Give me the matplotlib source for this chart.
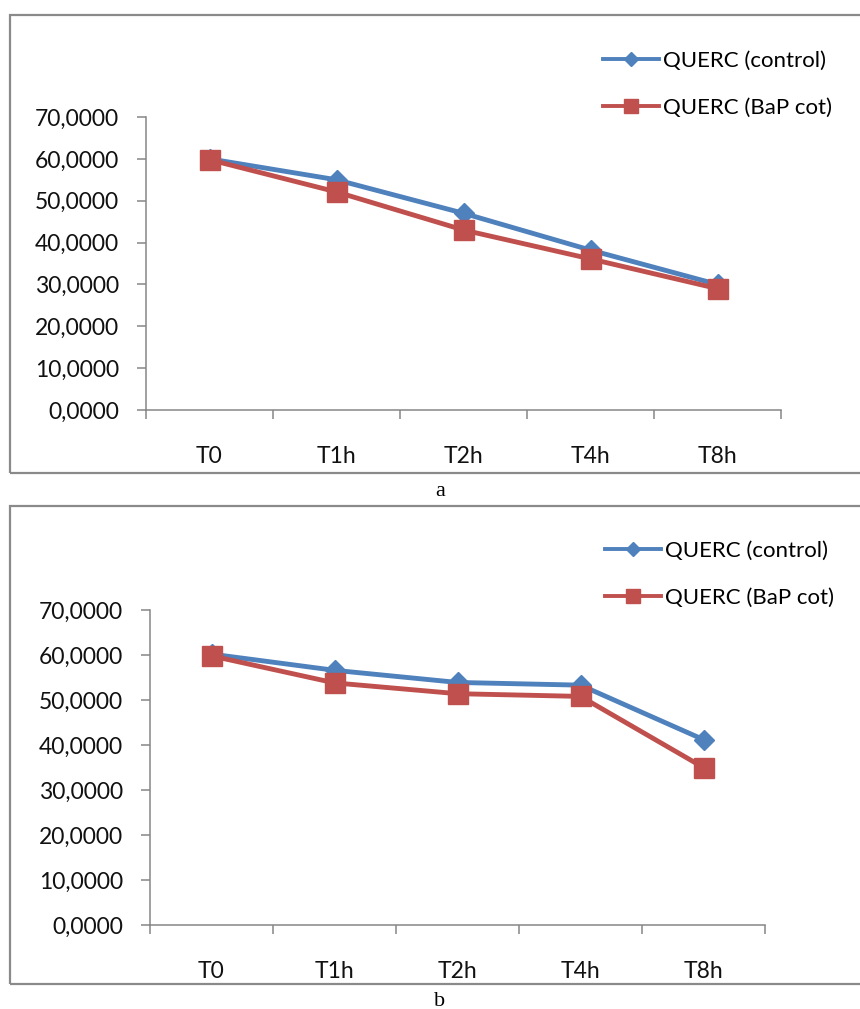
import matplotlib
matplotlib.use("Agg")
import matplotlib.pyplot as plt
from matplotlib.patches import Rectangle
from matplotlib.ticker import FixedLocator, FuncFormatter, NullFormatter

plt.rcParams['font.family'] = ['Lato', 'DejaVu Sans']

# ---- data ----
categories = ["T0", "T1h", "T2h", "T4h", "T8h"]
series_names = ["QUERC (control)", "QUERC (BaP cot)"]
a_control = [60.0, 55.0, 47.0, 38.2, 30.0]
a_bap = [59.8, 52.1, 43.0, 36.1, 29.0]
b_control = [60.2, 56.6, 53.9, 53.3, 41.2]
b_bap = [59.8, 53.8, 51.4, 50.8, 35.0]
y_ticks = [0, 10, 20, 30, 40, 50, 60, 70]
panel_labels = ["a", "b"]

W, H = 860, 1009
fig = plt.figure(figsize=(W / 100, H / 100), dpi=100)

BLUE = "#4F81BD"
RED = "#C0504D"
GRAY = "#868686"
FS = 16.5


def px_rect(l, t, r, b):
    return [l / W, 1 - b / H, (r - l) / W, (b - t) / H]


def frame(t, b):
    fig.patches.append(Rectangle((10 / W, 1 - b / H), (880 - 10) / W, (b - t) / H,
                                 transform=fig.transFigure, fill=False,
                                 edgecolor="#8a8a8a", linewidth=1.6))


def panel(rect, control, bap, leg_xy):
    ax = fig.add_axes(rect)
    x = [i + 0.5 for i in range(len(categories))]
    ax.plot(x, control, color=BLUE, lw=3.5, marker="D", ms=10,
            markeredgecolor=BLUE, label=series_names[0], zorder=3,
            solid_joinstyle="round")
    ax.plot(x, bap, color=RED, lw=3.5, marker="s", ms=14,
            markeredgecolor=RED, label=series_names[1], zorder=4,
            solid_joinstyle="round")
    ax.set_xlim(0, len(categories))
    ax.set_ylim(y_ticks[0], y_ticks[-1])
    for s in ("top", "right"):
        ax.spines[s].set_visible(False)
    for s in ("left", "bottom"):
        ax.spines[s].set_color(GRAY)
        ax.spines[s].set_linewidth(1.1)
    ax.yaxis.set_major_locator(FixedLocator(y_ticks))
    ax.yaxis.set_major_formatter(FuncFormatter(lambda v, p: f"{v:.4f}".replace(".", ",")))
    ax.tick_params(axis="y", length=6.5, width=1.1, color=GRAY, pad=13,
                   labelsize=FS, labelcolor="#111111")
    ax.xaxis.set_major_locator(FixedLocator(list(range(len(categories) + 1))))
    ax.xaxis.set_major_formatter(NullFormatter())
    ax.xaxis.set_minor_locator(FixedLocator(x))
    ax.set_xticklabels(categories, minor=True)
    ax.tick_params(axis="x", which="major", length=6.5, width=1.1, color=GRAY)
    ax.tick_params(axis="x", which="minor", length=0, pad=26, labelsize=FS,
                   labelcolor="#111111")
    leg = fig.legend(handles=ax.get_lines(), loc="upper left",
                     bbox_to_anchor=(leg_xy[0] / W, 1 - leg_xy[1] / H),
                     frameon=False, fontsize=16, borderpad=0, borderaxespad=0,
                     handlelength=2.5, handletextpad=0.2, labelspacing=1.2,
                     markerscale=0.72)
    for ln in leg.get_lines():
        ln.set_linewidth(2.8)
    return ax


frame(15, 473)
frame(506, 984)

panel(px_rect(146, 117, 781, 410), a_control, a_bap, (603, 51))
panel(px_rect(150, 610, 765, 925), b_control, b_bap, (605, 541))

fig.text(440 / W, 1 - 491 / H, panel_labels[0], ha="center", va="center",
         fontsize=16, family="Liberation Serif")
fig.text(440 / W, 1 - 1001 / H, panel_labels[1], ha="center", va="center",
         fontsize=16, family="Liberation Serif")

fig.savefig("out.png", dpi=100)
